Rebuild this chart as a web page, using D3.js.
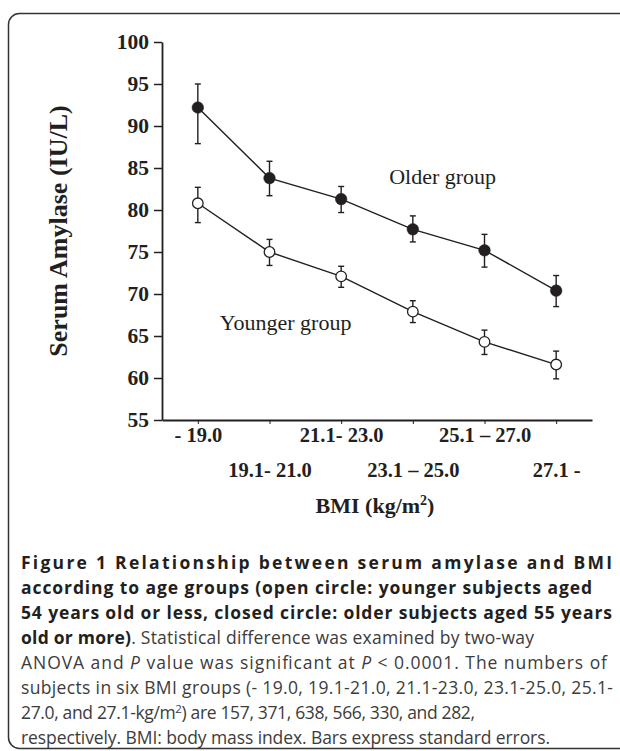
<!DOCTYPE html>
<html>
<head>
<meta charset="utf-8">
<script src="https://cdn.jsdelivr.net/npm/d3@7"></script>
<style>
    body { margin: 0; background: #fff; }
    svg { display: block; }
</style>
</head>
<body>
<svg id="chart"></svg>
<script>
// BMI groups (x categories)
let categories = ["- 19.0", "19.1- 21.0", "21.1- 23.0", "23.1 \u2013 25.0", "25.1 \u2013 27.0", "27.1 -"];

// older group (closed circles): mean and error bar ends
let olderMean = [92.2, 83.8, 81.3, 77.7, 75.2, 70.4];
let olderHigh = [95.0, 85.8, 82.8, 79.3, 77.1, 72.2];
let olderLow = [87.9, 81.7, 79.7, 76.2, 73.2, 68.5];

// younger group (open circles)
let youngerMean = [80.8, 75.0, 72.1, 67.9, 64.3, 61.6];
let youngerHigh = [82.7, 76.5, 73.3, 69.2, 65.7, 63.2];
let youngerLow = [78.5, 73.4, 70.8, 66.6, 62.8, 59.9];

let yTicks = [55, 60, 65, 70, 75, 80, 85, 90, 95, 100];

let captionLines = [
    [{t: "Figure 1 Relationship between serum amylase and BMI", b: 1}],
    [{t: "according to age groups (open circle: younger subjects aged", b: 1}],
    [{t: "54 years old or less, closed circle: older subjects aged 55 years", b: 1}],
    [{t: "old or more)", b: 1}, {t: ". Statistical difference was examined by two-way"}],
    [{t: "ANOVA and "}, {t: "P", i: 1}, {t: " value was significant at "}, {t: "P", i: 1}, {t: " < 0.0001. The numbers of"}],
    [{t: "subjects in six BMI groups (- 19.0, 19.1-21.0, 21.1-23.0, 23.1-25.0, 25.1-"}],
    [{t: "27.0, and 27.1-kg/m"}, {t: "2", sup: 1}, {t: ") are 157, 371, 638, 566, 330, and 282,"}],
    [{t: "respectively. BMI: body mass index. Bars express standard errors."}]
];
let captionWidths = [591, 571, 591, 513, 586, 592, 454, 529];

let width = 620,
    height = 751;

let svg = d3.select("#chart")
    .attr("width", width)
    .attr("height", height);

// outer frame (runs off the right edge)
svg.append("rect")
    .attr("x", 8.5)
    .attr("y", 13.5)
    .attr("width", 700)
    .attr("height", 735)
    .attr("rx", 11)
    .attr("fill", "none")
    .attr("stroke", "#333")
    .attr("stroke-width", 1.5);

let x = d3.scalePoint()
    .domain(categories)
    .range([162, 592])
    .padding(0.5);

let y = d3.scaleLinear()
    .domain([55, 100])
    .range([420, 42]);

let ink = "#231f20";
let serif = "'Liberation Serif', 'Times New Roman', serif";

// y axis
let yAxis = svg.append("g")
    .attr("transform", "translate(162,0)")
    .call(d3.axisLeft(y).tickValues(yTicks).tickSize(8).tickSizeOuter(0).tickPadding(5));
yAxis.select(".domain").attr("stroke", ink).attr("stroke-width", 1.8);
yAxis.selectAll(".tick line").attr("stroke", ink).attr("stroke-width", 1.5);
yAxis.selectAll(".tick text")
    .attr("fill", ink)
    .attr("font-family", serif)
    .attr("font-weight", "bold")
    .attr("font-size", 21.5);

// x axis, labels staggered on two rows
let xAxis = svg.append("g")
    .attr("transform", "translate(0,420)")
    .call(d3.axisBottom(x).tickSize(4).tickSizeOuter(0));
xAxis.select(".domain").attr("stroke", ink).attr("stroke-width", 2);
xAxis.selectAll(".tick line").attr("stroke", ink).attr("stroke-width", 1);
xAxis.selectAll(".tick text")
    .attr("fill", ink)
    .attr("font-family", serif)
    .attr("font-weight", "bold")
    .attr("font-size", 20.5)
    .attr("dy", null)
    .attr("y", function (d, i) {
        return i % 2 === 0 ? 22 : 57;
    });

// axis titles
svg.append("text")
    .attr("transform", "translate(67," + ((y(55) + y(100)) / 2) + ") rotate(-90)")
    .attr("text-anchor", "middle")
    .attr("font-family", serif)
    .attr("font-weight", "bold")
    .attr("font-size", 26)
    .attr("fill", ink)
    .text("Serum Amylase (IU/L)");

let xTitle = svg.append("text")
    .attr("x", 375)
    .attr("y", 513)
    .attr("text-anchor", "middle")
    .attr("font-family", serif)
    .attr("font-weight", "bold")
    .attr("font-size", 22)
    .attr("fill", ink);
xTitle.append("tspan").text("BMI (kg/m");
xTitle.append("tspan").attr("dy", -8).attr("font-size", 14).text("2");
xTitle.append("tspan").attr("dy", 8).text(")");

function drawSeries(mean, high, low, filled) {
    let g = svg.append("g");
    let line = d3.line()
        .x((d, i) => x(categories[i]))
        .y(d => y(d));

    g.append("path")
        .datum(mean)
        .attr("d", line)
        .attr("fill", "none")
        .attr("stroke", ink)
        .attr("stroke-width", 1.4);

    let bars = g.selectAll("g.err")
        .data(mean)
        .enter().append("g")
        .attr("class", "err")
        .attr("stroke", ink)
        .attr("stroke-width", 1.4);

    bars.append("line")
        .attr("x1", (d, i) => x(categories[i]))
        .attr("x2", (d, i) => x(categories[i]))
        .attr("y1", (d, i) => y(high[i]))
        .attr("y2", (d, i) => y(low[i]));
    bars.append("line")
        .attr("x1", (d, i) => x(categories[i]) - 3)
        .attr("x2", (d, i) => x(categories[i]) + 3)
        .attr("y1", (d, i) => y(high[i]))
        .attr("y2", (d, i) => y(high[i]));
    bars.append("line")
        .attr("x1", (d, i) => x(categories[i]) - 3)
        .attr("x2", (d, i) => x(categories[i]) + 3)
        .attr("y1", (d, i) => y(low[i]))
        .attr("y2", (d, i) => y(low[i]));

    g.selectAll("circle")
        .data(mean)
        .enter().append("circle")
        .attr("cx", (d, i) => x(categories[i]))
        .attr("cy", d => y(d))
        .attr("r", filled ? 5.8 : 5.3)
        .attr("fill", filled ? ink : "#fff")
        .attr("stroke", ink)
        .attr("stroke-width", filled ? 0.5 : 1.3);
}

drawSeries(youngerMean, youngerHigh, youngerLow, false);
drawSeries(olderMean, olderHigh, olderLow, true);

// group labels
svg.append("text")
    .attr("x", x(categories[2]) + 48)
    .attr("y", y(83.1))
    .attr("font-family", serif)
    .attr("font-size", 22)
    .attr("fill", ink)
    .text("Older group");

svg.append("text")
    .attr("x", x(categories[0]) + 22)
    .attr("y", y(65.7))
    .attr("font-family", serif)
    .attr("font-size", 22)
    .attr("fill", ink)
    .text("Younger group");

// caption
let caption = svg.append("g")
    .attr("font-family", "'Open Sans', 'Noto Sans', sans-serif")
    .attr("font-size", 17.5);

captionLines.forEach(function (segments, li) {
    let t = caption.append("text")
        .attr("x", 21)
        .attr("y", 569 + li * 25)
        .attr("textLength", captionWidths[li])
        .attr("lengthAdjust", "spacing");
    segments.forEach(function (s) {
        let ts = t.append("tspan")
            .attr("fill", s.b ? "#231f20" : "#3c3c3c")
            .attr("font-weight", s.b ? "bold" : "normal")
            .text(s.t);
        if (s.i) ts.attr("font-style", "italic");
        if (s.sup) {
            ts.attr("dy", -6).attr("font-size", 11.5);
        }
    });
    // return to the baseline after a superscript
    t.selectAll("tspan").each(function (d, k, nodes) {
        if (k > 0 && segments[k - 1].sup) d3.select(this).attr("dy", 6);
    });
});
</script>
</body>
</html>
